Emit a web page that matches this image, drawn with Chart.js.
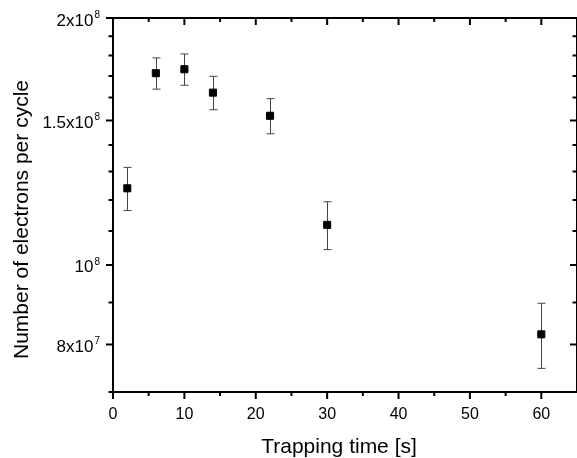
<!DOCTYPE html>
<html>
<head>
<meta charset="utf-8">
<script src="https://cdn.jsdelivr.net/npm/chart.js@4.4.1/dist/chart.umd.min.js"></script>
<style>
  html, body { margin: 0; padding: 0; background: #fff; }
  #wrap { width: 577px; height: 458px; }
</style>
</head>
<body>
<div id="wrap"><canvas id="trapChart"></canvas></div>
<script>
// trapping time vs electrons per cycle (log y)
var trapTimes = [2, 6, 10, 14, 22, 30, 60];
var electrons = [1.240e8, 1.713e8, 1.732e8, 1.622e8, 1.520e8, 1.119e8, 8.23e7];
var electronErr = [7.5e6, 7.5e6, 7.6e6, 7.6e6, 7.5e6, 7.5e6, 7.5e6];

var xMajorTicks = [0, 10, 20, 30, 40, 50, 60];
var xMinorTicks = [5, 15, 25, 35, 45, 55];
var yMajorTicks = [8e7, 1e8, 1.5e8, 2e8];
var yTickBase = ['8x10', '10', '1.5x10', '2x10'];
var yTickExp = ['7', '8', '8', '8'];
var yMinorTicks = [7e7, 9e7, 1.1e8, 1.2e8, 1.3e8, 1.4e8, 1.6e8, 1.7e8, 1.8e8, 1.9e8];
var xTitle = 'Trapping time [s]';
var yTitle = 'Number of electrons per cycle';

var FONT = 'Liberation Sans, Arial, sans-serif';

var points = trapTimes.map(function(t, i) { return { x: t, y: electrons[i] }; });

var frameAndErrors = {
    id: 'frameAndErrors',
    beforeDatasetsDraw: function(chart) {
        var ctx = chart.ctx, xs = chart.scales.x, ys = chart.scales.y;
        ctx.save();
        ctx.strokeStyle = '#444';
        ctx.lineWidth = 1;
        for (var i = 0; i < trapTimes.length; i++) {
            var px = Math.round(xs.getPixelForValue(trapTimes[i])) + 0.5;
            var top = ys.getPixelForValue(electrons[i] + electronErr[i]);
            var bot = ys.getPixelForValue(electrons[i] - electronErr[i]);
            ctx.beginPath();
            ctx.moveTo(px, top); ctx.lineTo(px, bot);
            ctx.moveTo(px - 4, top); ctx.lineTo(px + 4, top);
            ctx.moveTo(px - 4, bot); ctx.lineTo(px + 4, bot);
            ctx.stroke();
        }
        ctx.restore();
    },
    afterDraw: function(chart) {
        var ctx = chart.ctx, a = chart.chartArea, xs = chart.scales.x, ys = chart.scales.y;
        ctx.save();
        ctx.strokeStyle = '#000';
        ctx.lineWidth = 2;
        ctx.strokeRect(a.left, a.top, a.right - a.left, a.bottom - a.top);
        ctx.beginPath();
        function xTick(v, len) {
            var px = xs.getPixelForValue(v);
            ctx.moveTo(px, a.bottom); ctx.lineTo(px, a.bottom + len);   // outward
            ctx.moveTo(px, a.top); ctx.lineTo(px, a.top + len);         // inward
        }
        function yTick(v, len) {
            var py = ys.getPixelForValue(v);
            ctx.moveTo(a.left, py); ctx.lineTo(a.left - len, py);       // outward
            ctx.moveTo(a.right, py); ctx.lineTo(a.right - len, py);     // inward
        }
        xMajorTicks.forEach(function(v) { xTick(v, 7); });
        xMinorTicks.forEach(function(v) { xTick(v, 4); });
        yMajorTicks.forEach(function(v) { yTick(v, 7); });
        yMinorTicks.forEach(function(v) { yTick(v, 4.5); });
        ctx.stroke();

        // y labels with real superscript exponents
        ctx.fillStyle = '#000';
        ctx.textBaseline = 'alphabetic';
        ctx.textAlign = 'left';
        yMajorTicks.forEach(function(v, k) {
            var py = ys.getPixelForValue(v);
            ctx.font = '10px ' + FONT;
            var we = ctx.measureText(yTickExp[k]).width;
            ctx.font = '17px ' + FONT;
            var wb = ctx.measureText(yTickBase[k]).width;
            var right = a.left - 13;
            var x0 = right - we - 1 - wb;
            ctx.fillText(yTickBase[k], x0, py + 7.5);
            ctx.font = '10px ' + FONT;
            ctx.fillText(yTickExp[k], x0 + wb + 1, py);
        });

        // axis titles (Origin places them a bit off the plot centre)
        ctx.font = '21px ' + FONT;
        ctx.textAlign = 'center';
        ctx.fillText(xTitle, (a.left + a.right) / 2 - 6, 453);
        ctx.translate(27.5, (a.top + a.bottom) / 2 + 14.5);
        ctx.rotate(-Math.PI / 2);
        ctx.fillText(yTitle, 0, 0);
        ctx.restore();
    }
};

new Chart(document.getElementById('trapChart').getContext('2d'), {
    type: 'scatter',
    data: {
        datasets: [{
            label: 'Electrons per cycle',
            data: points,
            pointStyle: 'rect',
            pointRadius: 5,
            borderWidth: 1,
            backgroundColor: '#000',
            borderColor: '#000'
        }]
    },
    options: {
        responsive: true,
        maintainAspectRatio: false,
        animation: false,
        layout: { autoPadding: false, padding: { top: 18, right: 0, left: 0, bottom: 0 } },
        plugins: { legend: { display: false }, tooltip: { enabled: false } },
        scales: {
            x: {
                type: 'linear',
                min: 0, max: 65,
                afterBuildTicks: function(s) { s.ticks = xMajorTicks.map(function(v) { return { value: v }; }); },
                afterFit: function(s) { s.height = 66; },
                grid: { display: false },
                border: { display: false },
                ticks: { color: '#000', padding: 5, autoSkip: false, maxRotation: 0, font: { family: FONT, size: 16 } },
                title: { display: false }
            },
            y: {
                type: 'logarithmic',
                min: 7e7, max: 2e8,
                afterBuildTicks: function(s) { s.ticks = yMajorTicks.map(function(v) { return { value: v }; }); },
                afterFit: function(s) { s.width = 113; },
                grid: { display: false },
                border: { display: false },
                ticks: { display: false },
                title: { display: false }
            }
        }
    },
    plugins: [frameAndErrors]
});
</script>
</body>
</html>
